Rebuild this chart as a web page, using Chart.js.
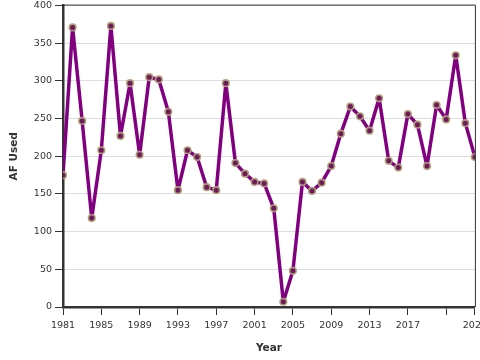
<!DOCTYPE html>
<html>
<head>
<meta charset="utf-8">
<script src="https://cdn.jsdelivr.net/npm/chart.js@4/dist/chart.umd.min.js"></script>
<style>
  html, body { margin: 0; padding: 0; background: #fff; overflow: hidden; }
  #wrap { width: 492px; height: 360px; }
</style>
</head>
<body>
<div id="wrap"><canvas id="chart"></canvas></div>
<script>
"use strict";

// acre-feet used per year
const years = [1981, 1982, 1983, 1984, 1985, 1986, 1987, 1988, 1989, 1990,
               1991, 1992, 1993, 1994, 1995, 1996, 1997, 1998, 1999, 2000,
               2001, 2002, 2003, 2004, 2005, 2006, 2007, 2008, 2009, 2010,
               2011, 2012, 2013, 2014, 2015, 2016, 2017, 2018, 2019, 2020,
               2021, 2022, 2023, 2024];
const afUsed = [175, 371, 247, 118, 208, 373, 227, 297, 202, 305,
                302, 259, 155, 208, 199, 159, 155, 297, 191, 177,
                166, 164, 131, 7, 48, 166, 154, 165, 187, 230,
                266, 253, 234, 277, 194, 185, 256, 242, 187, 268,
                249, 334, 244, 199];
const xTicks = [1981, 1985, 1989, 1993, 1997, 2001, 2005, 2009, 2013, 2017, 2021, 2024];
const hiddenTickLabels = [2021];

const tickFont = {family: "DejaVu Sans", size: 9.5};
const titleFont = {family: "DejaVu Sans", size: 10.5, weight: "bold"};

// thin frame on top and right of the plot
const framePlugin = {
    id: "frame",
    afterDraw(chart) {
        const {ctx, chartArea: a} = chart;
        ctx.save();
        ctx.strokeStyle = "#333";
        ctx.lineWidth = 1;
        ctx.beginPath();
        ctx.moveTo(a.left, a.top - 0.5);
        ctx.lineTo(a.right + 0.5, a.top - 0.5);
        ctx.lineTo(a.right + 0.5, a.bottom);
        ctx.stroke();
        ctx.restore();
    }
};

new Chart(document.getElementById("chart"), {
    type: "line",
    data: {
        datasets: [{
            data: years.map((y, i) => ({x: y, y: afUsed[i]})),
            borderColor: "#800080",
            borderWidth: 3.5,
            borderJoinStyle: "round",
            borderCapStyle: "round",
            tension: 0,
            pointRadius: 3.3,
            pointBorderWidth: 1.6,
            pointBackgroundColor: "#6e1a5c",
            pointBorderColor: "rgba(176,160,120,0.95)"
        }]
    },
    options: {
        responsive: true,
        maintainAspectRatio: false,
        animation: false,
        layout: {padding: {top: 5, right: 16, left: 0, bottom: 0}},
        plugins: {legend: {display: false}, tooltip: {enabled: false}},
        scales: {
            x: {
                type: "linear",
                min: 1981,
                max: 2024,
                afterBuildTicks: (s) => { s.ticks = xTicks.map(v => ({value: v})); },
                afterFit: (s) => { s.height = 53; },
                ticks: {
                    font: tickFont,
                    color: "#333",
                    padding: 5,
                    maxRotation: 0,
                    autoSkip: false,
                    callback: (v) => hiddenTickLabels.includes(v) ? "" : String(v)
                },
                grid: {drawOnChartArea: false, tickLength: 8, tickColor: "#333", tickWidth: 1},
                border: {color: "#333", width: 2.5},
                title: {display: true, text: "Year", font: titleFont, color: "#333", padding: {top: 6, bottom: 5}}
            },
            y: {
                min: 0,
                max: 400,
                afterFit: (s) => { s.width = 63; s.paddingTop = 0; s.paddingBottom = 0; },
                ticks: {stepSize: 50, font: tickFont, color: "#333", padding: 3},
                grid: {color: "#ddd", lineWidth: 1, tickLength: 8, tickColor: "#333"},
                border: {color: "#333", width: 2.5},
                title: {display: true, text: "AF Used", font: titleFont, color: "#333", padding: {top: 8, bottom: 4}}
            }
        }
    },
    plugins: [framePlugin]
});
</script>
</body>
</html>
